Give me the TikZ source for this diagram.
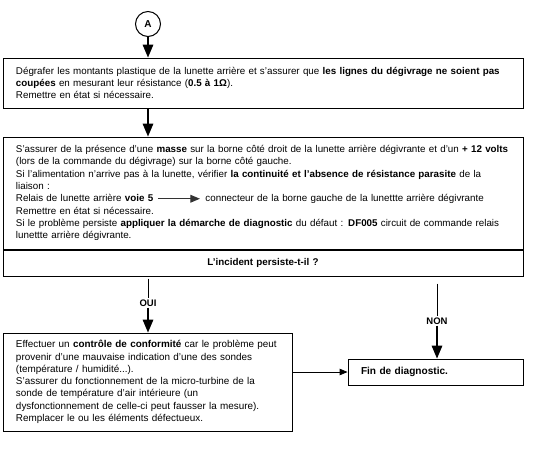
\documentclass[tikz,border=0pt]{standalone}
\usepackage{fontspec}
\setmainfont{Liberation Sans}
\usepackage{tikz}
\usetikzlibrary{arrows}

\begin{document}
\begin{tikzpicture}[x=1pt,y=-1pt,
  box/.style={draw,line width=1pt,inner xsep=13pt,inner ysep=0pt,align=left,
    font=\fontsize{9.8}{12.3}\selectfont},
  answer/.style={font=\fontsize{9.5}{11}\selectfont\bfseries,inner sep=1pt},
  go/.style={-triangle 45,line width=2pt},
  link/.style={line width=0.8pt}]
\useasboundingbox (0,0) rectangle (535,456);
\node[draw,circle,line width=1pt,minimum size=25pt,inner sep=0pt,
  font=\fontsize{10}{12}\selectfont\bfseries] (A) at (148,24) {A};
\node[box,text width=494pt,minimum height=50pt] (unclip) at (263,83)
  {Dégrafer les montants plastique de la lunette arrière et s'assurer que \textbf{les lignes du dégivrage ne soient pas}\\
   \textbf{coupées} en mesurant leur résistance (\textbf{0.5 à 1Ω}).\\
   Remettre en état si nécessaire.};
\node[box,text width=494pt,minimum height=112pt] (supply) at (263,193)
  {S'assurer de la présence d'une \textbf{masse} sur la borne côté droit de la lunette arrière dégivrante et d'un \textbf{+ 12 volts}\\
   (lors de la commande du dégivrage) sur la borne côté gauche.\\
   Si l'alimentation n'arrive pas à la lunette, vérifier \textbf{la continuité et l'absence de résistance parasite} de la\\
   liaison :\\
   Relais de lunette arrière \textbf{voie 5}\hspace{4pt}\tikz[x=1pt,y=1pt,baseline=-3pt]\draw[-triangle 45,line width=1.2pt,black!80] (0,0) -- (42,0);\hspace{5pt}connecteur de la borne gauche de la lunettte arrière dégivrante\\
   Remettre en état si nécessaire.\\
   Si le problème persiste \textbf{appliquer la démarche de diagnostic} du défaut : \textbf{DF005} circuit de commande relais\\
   lunettte arrière dégivrante.};
\node[box,text width=494pt,minimum height=26pt,align=center,anchor=north] (question) at (supply.south)
  {\textbf{L'incident persiste-t-il ?}};
\node[answer] (oui) at (148,303) {OUI};
\node[answer] (non) at (437,321) {NON};
\node[box,text width=263pt,minimum height=98pt,font=\fontsize{9.9}{12.3}\selectfont] (conform) at (147.5,382)
  {Effectuer un \textbf{contrôle de conformité} car le problème peut\\
   provenir d'une mauvaise indication d'une des sondes\\
   (température / humidité...).\\
   S'assurer du fonctionnement de la micro-turbine de la\\
   sonde de température d'air intérieure (un\\
   dysfonctionnement de celle-ci peut fausser la mesure).\\
   Remplacer le ou les éléments défectueux.};
\node[box,text width=149pt,minimum height=26pt,font=\fontsize{10.1}{12.3}\selectfont] (fin) at (435.5,372)
  {\textbf{Fin de diagnostic.}};

\draw[go] (A) -- (A |- unclip.north);
\draw[go] (unclip.south -| A) -- (supply.north -| A);
\draw[link,shorten <=2pt] (question.south -| oui) -- (oui);
\draw[go] (oui) -- (oui |- conform.north);
\draw[link,shorten <=7pt] (question.south -| non) -- (non);
\draw[go] (non) -- (non |- fin.north);
\draw[link,-triangle 45] (conform.east |- fin) -- (fin.west);
\end{tikzpicture}
\end{document}
